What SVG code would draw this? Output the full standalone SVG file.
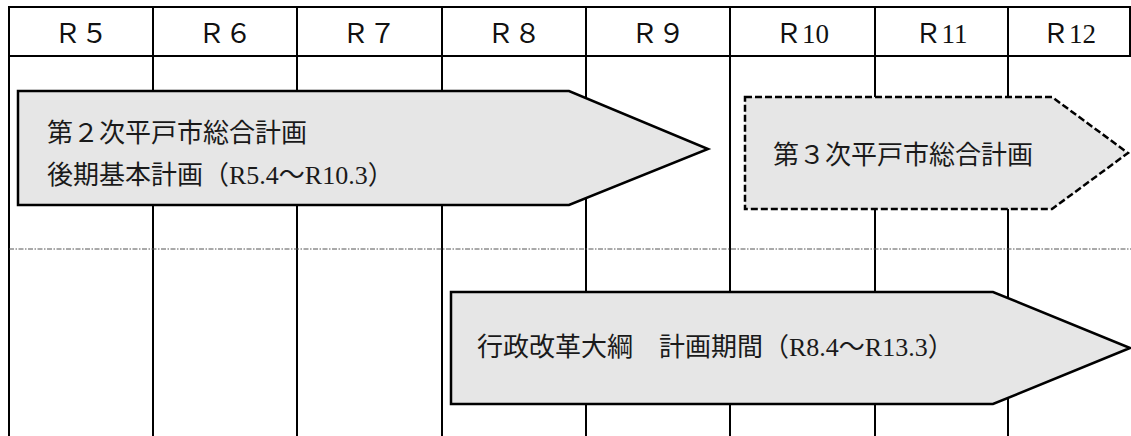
<svg xmlns="http://www.w3.org/2000/svg" width="1131" height="436" viewBox="0 0 1131 436">
<style>
.grid{stroke:#000;stroke-width:2;fill:none}
.sep{stroke:#555;stroke-width:1;stroke-dasharray:5 1.5 1.5 1.5;fill:none}
.arrow{fill:#e6e6e6;stroke:#000;stroke-width:2.5;stroke-linejoin:miter}
.dashed{stroke-dasharray:7 3}
.hdr{font-family:"Liberation Serif","Noto Sans CJK JP",serif;font-size:27px;fill:#111;text-anchor:middle}
.lbl{font-family:"Liberation Serif","Noto Sans CJK JP",serif;font-size:26px;fill:#1a1a1a}
</style>
<rect width="1131" height="436" fill="#fff"/>
<g id="table">
<line class="grid" x1="8" y1="7" x2="1131" y2="7"/>
<line class="grid" x1="8" y1="56" x2="1131" y2="56"/>
<line class="grid" x1="9" y1="6" x2="9" y2="436"/>
<line class="grid" x1="153" y1="7" x2="153" y2="436"/>
<line class="grid" x1="297" y1="7" x2="297" y2="436"/>
<line class="grid" x1="442" y1="7" x2="442" y2="436"/>
<line class="grid" x1="586" y1="7" x2="586" y2="436"/>
<line class="grid" x1="730" y1="7" x2="730" y2="436"/>
<line class="grid" x1="875" y1="7" x2="875" y2="436"/>
<line class="grid" x1="1008" y1="7" x2="1008" y2="436"/>
<line class="grid" x1="1130" y1="7" x2="1130" y2="56"/>
<line class="sep" x1="9" y1="249" x2="1131" y2="249"/>
<text class="hdr" x="81" y="43">Ｒ５</text>
<text class="hdr" x="225" y="43">Ｒ６</text>
<text class="hdr" x="369" y="43">Ｒ７</text>
<text class="hdr" x="514" y="43">Ｒ８</text>
<text class="hdr" x="658" y="43">Ｒ９</text>
<text class="hdr" x="802" y="43">Ｒ10</text>
<text class="hdr" x="941" y="43">Ｒ11</text>
<text class="hdr" x="1069" y="43">Ｒ12</text>
</g>
<g id="connectors"></g>
<g id="plan2-later">
<polygon class="arrow" points="18,91 569,91 708,149 569,205 18,205"/>
<text class="lbl" x="47" y="142">第２次平戸市総合計画</text>
<text class="lbl" x="47" y="184">後期基本計画（R5.4～R10.3）</text>
</g>
<g id="plan3">
<polygon class="arrow dashed" points="745,97 1052,97 1128,153 1052,209 745,209"/>
<text class="lbl" x="773" y="164">第３次平戸市総合計画</text>
</g>
<g id="reform">
<polygon class="arrow" points="451,292 993,292 1130,348 993,404 451,404"/>
<text class="lbl" x="477" y="356">行政改革大綱　計画期間（R8.4～R13.3）</text>
</g>
</svg>
